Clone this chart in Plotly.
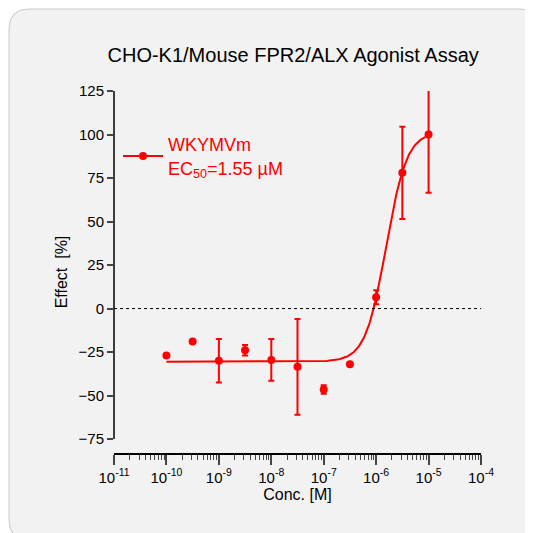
import numpy as np
import plotly.graph_objects as go

conc = [1e-10, 3.16e-10, 1e-9, 3.16e-9, 1e-8, 3.16e-8, 1e-7, 3.16e-7, 1e-6, 3.16e-6, 1e-5]
effect = [-27, -19, -30, -24, -29.5, -33.5, -46.5, -32, 6.5, 78, 100]
err = [0, 0, 12.5, 3, 12, 27.5, 2.5, 0, 4, 26.5, 33.5]
fit_bottom, fit_top, fit_ec50, fit_hill = -30.5, 101.5, 1.55e-6, 2.2
xticks = [-11, -10, -9, -8, -7, -6, -5, -4]
yticks = [-75, -50, -25, 0, 25, 50, 75, 100, 125]

RED = "#ff0000"
W = H = 533
L, R, T, B = 106, 60, 83, 88
pw, ph = W - L - R, H - T - B
def px(x): return (x - L) / pw
def py(y): return (H - B - y) / ph

xf = np.logspace(-10, -5, 300)
yf = fit_bottom + (fit_top - fit_bottom) / (1 + (fit_ec50 / xf) ** fit_hill)

fig = go.Figure()
fig.add_trace(go.Scatter(x=xf, y=yf, mode="lines", line=dict(color=RED, width=2), showlegend=False))
fig.add_trace(go.Scatter(x=conc, y=effect, mode="markers", marker=dict(color=RED, size=8),
                         error_y=dict(type="data", array=err, color=RED, thickness=2, width=3),
                         showlegend=False, cliponaxis=False))
fig.add_trace(go.Scatter(x=[None], y=[None], mode="lines+markers",
                         line=dict(color=RED, width=2), marker=dict(color=RED, size=8),
                         name="WKYMVm<br>EC<sub>50</sub>=1.55 µM"))

r = 20
x0, x1, y0, y1 = 1, 532, 1, 532
path = (f"M {px(x0+r)},{py(y0)} L {px(x1-r)},{py(y0)} Q {px(x1)},{py(y0)} {px(x1)},{py(y0+r)} "
        f"L {px(x1)},{py(y1-r)} Q {px(x1)},{py(y1)} {px(x1-r)},{py(y1)} "
        f"L {px(x0+r)},{py(y1)} Q {px(x0)},{py(y1)} {px(x0)},{py(y1-r)} "
        f"L {px(x0)},{py(y0+r)} Q {px(x0)},{py(y0)} {px(x0+r)},{py(y0)} Z")
shapes = [
    dict(type="path", path=path, xref="paper", yref="paper", fillcolor="#f2f2f2",
         line=dict(color="#c8c8c8", width=1), layer="below"),
    dict(type="line", xref="paper", yref="y", x0=0, x1=0, y0=-75, y1=125, line=dict(color="black", width=1.5)),
    dict(type="line", xref="x", yref="y", x0=1e-11, x1=1e-4, y0=0, y1=0, line=dict(color="black", width=1, dash="dot")),
]

fig.update_layout(
    width=W, height=H, margin=dict(l=L, r=R, t=T, b=B, autoexpand=False),
    paper_bgcolor="white", plot_bgcolor="rgba(0,0,0,0)",
    font=dict(family="Liberation Sans, Arial", color="black", size=15),
    title=dict(text="CHO-K1/Mouse FPR2/ALX Agonist Assay", x=0.535, xanchor="center", y=0.912,
               yanchor="middle", font=dict(size=20), automargin=False),
    shapes=shapes,
    legend=dict(x=px(110), y=py(118), xanchor="left", yanchor="top", bgcolor="rgba(0,0,0,0)",
                font=dict(size=18, color=RED), itemwidth=40),
    xaxis=dict(type="log", range=[-11, -4], showgrid=False, zeroline=False, showline=True, automargin=False,
               linecolor="black", linewidth=1.5, ticks="outside", ticklen=10, tickwidth=1.5,
               tickvals=[10.0 ** k for k in xticks],
               ticktext=[f"10<sup>{k}</sup>" for k in xticks],
               minor=dict(ticks="outside", ticklen=5, tickwidth=1, dtick="D1", showgrid=False),
               title=dict(text="Conc. [M]", standoff=0, font=dict(size=16))),
    yaxis=dict(range=[-83, 125], showgrid=False, zeroline=False, showline=False, automargin=False,
               ticks="outside", ticklen=6, tickwidth=1.5, tickvals=yticks,
               title=dict(text="Effect  [%]", standoff=6, font=dict(size=16))),
)
fig.write_html("out.html")
